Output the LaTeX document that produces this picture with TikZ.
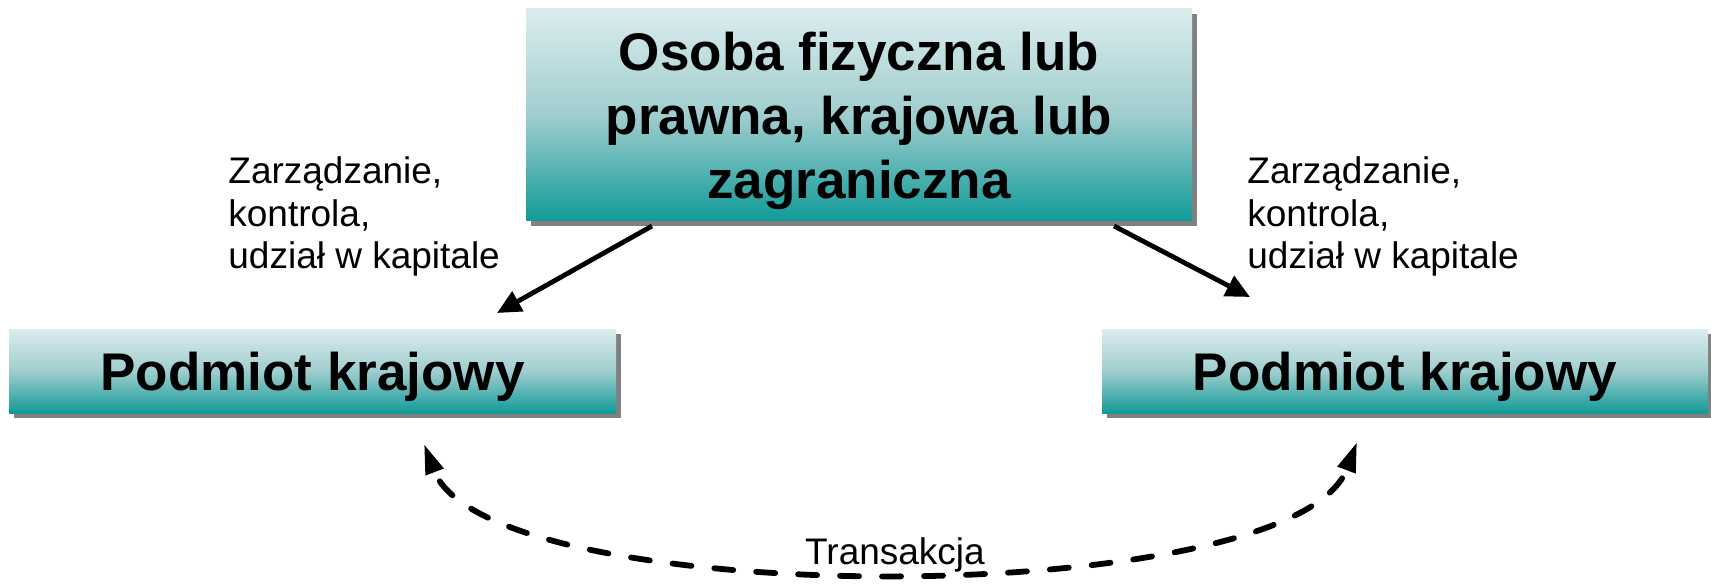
\documentclass[tikz,border=0pt]{standalone}
\usepackage{fontspec}
\setmainfont{Liberation Sans}
\usetikzlibrary{arrows.meta,shadows}

\definecolor{boxtop}{RGB}{219,236,238}
\definecolor{boxmid}{RGB}{160,205,206}
\definecolor{boxbot}{RGB}{16,154,152}
\definecolor{shadowgray}{RGB}{128,128,128}

% light-to-teal fill used by all three boxes (bottom first)
\pgfdeclareverticalshading{tealfade}{100bp}{%
  color(0bp)=(boxbot); color(25bp)=(boxbot); color(50bp)=(boxmid);
  color(75bp)=(boxtop); color(100bp)=(boxtop)}

\tikzset{
  entity/.style={shading=tealfade, inner sep=0pt, align=center,
    general shadow={fill=shadowgray, shadow xshift=2.5pt, shadow yshift=-2.5pt},
    font=\bfseries\fontsize{26.5}{32}\selectfont},
  notetext/.style={inner sep=0pt, align=left, anchor=north west,
    font=\fontsize{18.5}{21.25}\selectfont},
  link/.style={line width=2.4pt, -{Triangle[length=12pt,width=11pt]}},
  deal/.style={line width=2.9pt, dash pattern=on 9.5pt off 11.5pt, dash phase=15pt,
    line cap=round,
    {Triangle[length=15pt,width=9pt]}-{Triangle[length=15pt,width=9pt]}}
}

\begin{document}
\begin{tikzpicture}[x=0.5pt,y=-0.5pt]
  \useasboundingbox (0,0) rectangle (1711,588);

  % owner box
  \node[entity, minimum width=333pt, minimum height=106pt] (owner) at (859,115)
    {Osoba fizyczna lub\\prawna, krajowa lub\\\raisebox{0pt}[\height][0pt]{zagraniczna}};

  % the two domestic entities
  \node[entity, minimum width=303.5pt, minimum height=42pt, text height=19pt, text depth=0pt]
    (left) at (312.5,371) {Podmiot krajowy};
  \node[entity, minimum width=303pt, minimum height=42pt, text height=19pt, text depth=0pt]
    (right) at (1405,371) {Podmiot krajowy};

  % relation labels
  \node[notetext] (lnote) at (228,156.5) {Zarządzanie,\\kontrola,\\udział w kapitale};
  \node[notetext] (rnote) at (1247,156.5) {Zarządzanie,\\kontrola,\\udział w kapitale};

  % arrow end points
  \coordinate (ls) at (652,226);
  \coordinate (le) at (497,313);
  \coordinate (rs) at (1114,226);
  \coordinate (re) at (1250,297);
  \coordinate (tl) at (424,444);
  \coordinate (tr) at (1357,442);

  \draw[link] (ls) -- (le);
  \draw[link] (rs) -- (re);

  % transaction between the entities
  \draw[deal] (tl) .. controls (488,612) and (1293,612) .. (tr);
  \node[inner sep=0pt, anchor=base, font=\fontsize{18.5}{21.25}\selectfont]
    (deal) at (895,564) {Transakcja};
\end{tikzpicture}
\end{document}
